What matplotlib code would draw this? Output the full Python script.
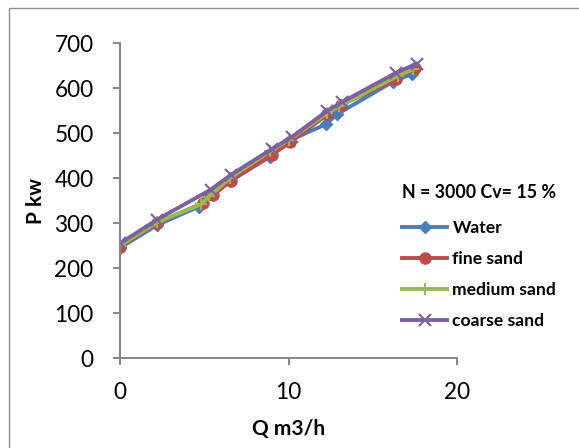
import matplotlib
matplotlib.use('Agg')
from matplotlib import pyplot as plt
from matplotlib.patches import Rectangle

plt.rcParams['font.family'] = ['Lato', 'DejaVu Sans']

q_water = [0, 2.2, 4.7, 5.4, 6.5, 8.9, 10.0, 12.2, 12.9, 16.2, 17.3]
p_water = [245, 296, 337, 365, 393, 448, 483, 520, 543, 615, 632]
q_fine = [0, 2.2, 4.9, 5.5, 6.6, 9.0, 10.1, 12.3, 13.1, 16.4, 17.5]
p_fine = [248, 300, 345, 362, 395, 452, 480, 542, 563, 620, 645]
q_medium = [0, 2.2, 4.8, 5.3, 6.5, 8.9, 10.0, 12.3, 13.0, 16.5, 17.4]
p_medium = [250, 302, 342, 360, 400, 460, 485, 545, 560, 628, 643]
q_coarse = [0, 2.2, 5.4, 6.6, 9.0, 10.2, 12.3, 13.2, 16.4, 17.6]
p_coarse = [255, 308, 375, 408, 465, 492, 550, 570, 635, 655]

fig = plt.figure(figsize=(5.79, 4.48), dpi=100)
fig.patches.append(Rectangle((9 / 579, -0.1), 1.2, 1 - 8 / 448 + 0.1,
                             transform=fig.transFigure, fill=False,
                             edgecolor='#8c8c8c', linewidth=1.0))
ax = fig.add_axes([120 / 579, 1 - 358 / 448, 337 / 579, 314.5 / 448])

ax.plot(q_water, p_water, color='#4A7EBB', marker='D', markersize=6, lw=2.8, label='Water')
ax.plot(q_fine, p_fine, color='#BE4B48', marker='o', markersize=8, lw=2.8, label='fine sand')
ax.plot(q_medium, p_medium, color='#98B954', marker='+', markersize=8, mew=1.5, lw=2.8, label='medium sand')
ax.plot(q_coarse, p_coarse, color='#7D60A0', marker='x', markersize=8, mew=1.5, lw=2.8, label='coarse sand')

ax.set_xlim(0, 20)
ax.set_ylim(0, 700)
ax.set_xticks([0, 10, 20])
ax.set_yticks(range(0, 701, 100))
for s in ['top', 'right']:
    ax.spines[s].set_visible(False)
for s in ['left', 'bottom']:
    ax.spines[s].set_color('#868686')
    ax.spines[s].set_linewidth(1.4)
ax.tick_params(axis='both', colors='#868686', width=1.4, length=5, labelsize=16.3,
               labelcolor='black')
ax.tick_params(axis='x', pad=12)
ax.tick_params(axis='y', pad=14)
ax.set_xlabel('Q m3/h', fontsize=15, fontweight='bold', labelpad=12)
ax.set_ylabel('P kw', fontsize=15, fontweight='bold', labelpad=6)

leg = ax.legend(loc='upper left', bbox_to_anchor=(386 / 579, 1 - 168 / 448),
                bbox_transform=fig.transFigure, frameon=False,
                title='N = 3000 Cv= 15 %', handlelength=2.6, handletextpad=0.3,
                labelspacing=0.85, prop={'weight': 'bold', 'size': 12.6})
leg.get_title().set_fontweight('bold')
leg.get_title().set_fontsize(12.8)
leg._legend_box.align = 'left'
leg._legend_box.sep = 14

fig.savefig('out.png', dpi=100)
